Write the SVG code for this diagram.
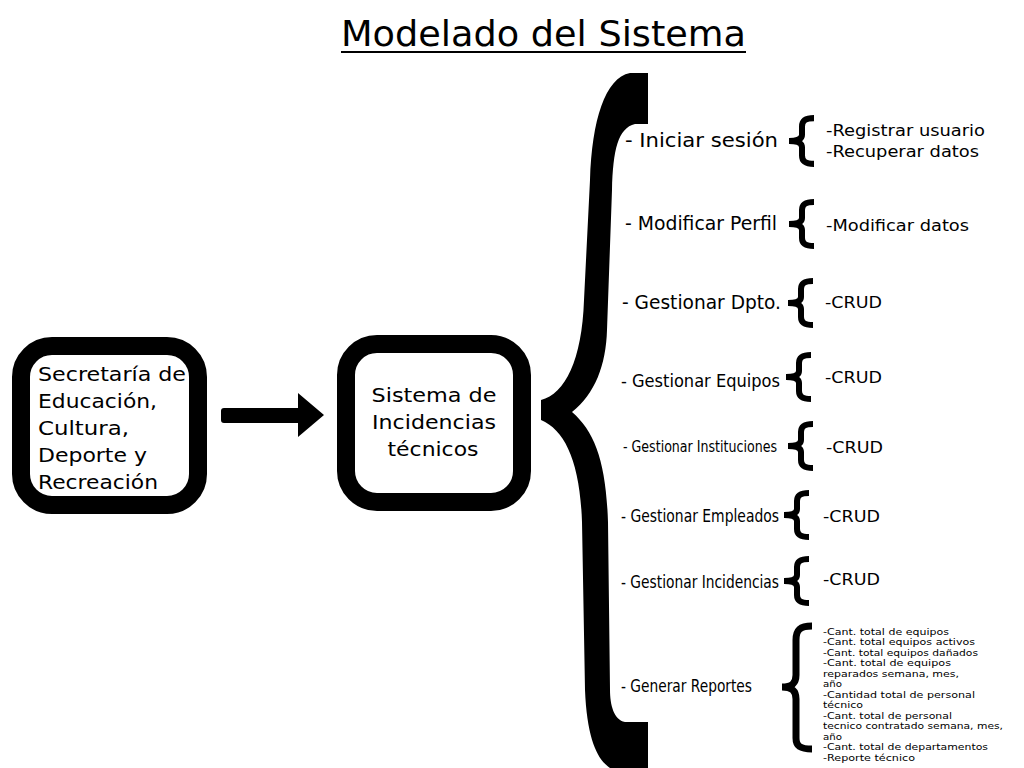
<svg xmlns="http://www.w3.org/2000/svg" xmlns:xlink="http://www.w3.org/1999/xlink" width="1024" height="768" viewBox="0 0 1024 768">
<style>
  text { font-family: "DejaVu Sans", Verdana, sans-serif; fill: #000; }
  .cond { font-family: "DejaVu Sans Condensed", "DejaVu Sans", sans-serif; }
  .box { fill: #fff; stroke: #000; stroke-width: 18; }
  .brace { fill: none; stroke: #000; stroke-width: 6; stroke-linecap: butt; stroke-linejoin: miter; }
  .big { font-size: 20px; }
  .lbl { font-size: 19px; }
  .sub { font-size: 16px; }
  .rep { font-size: 9.4px; }
</style>
<defs>
  <path id="brace" class="brace" d="M 28 3 C 20 3 16 5 16 11 L 16 19 C 16 23 12 25 3 25 C 12 25 16 27 16 31 L 16 39 C 16 45 20 47 28 47"/>
</defs>
<rect width="1024" height="768" fill="#fff"/>

<g id="title">
  <text x="341" y="46" font-size="36" textLength="405" lengthAdjust="spacingAndGlyphs">Modelado del Sistema</text>
  <line x1="341" y1="52" x2="746" y2="52" stroke="#000" stroke-width="2"/>
</g>

<g id="node-secretaria">
  <rect class="box" x="21" y="346" width="177" height="159" rx="31"/>
  <text class="big" x="38" y="381" textLength="148" lengthAdjust="spacingAndGlyphs">Secretaría de</text>
  <text class="big" x="38" y="408" textLength="119" lengthAdjust="spacingAndGlyphs">Educación,</text>
  <text class="big" x="38" y="435" textLength="91" lengthAdjust="spacingAndGlyphs">Cultura,</text>
  <text class="big" x="38" y="462" textLength="109" lengthAdjust="spacingAndGlyphs">Deporte y</text>
  <text class="big" x="38" y="489" textLength="120" lengthAdjust="spacingAndGlyphs">Recreación</text>
</g>

<g id="node-sistema">
  <rect class="box" x="346" y="344" width="176" height="158" rx="31"/>
  <text class="big" x="434" y="402" text-anchor="middle" textLength="125" lengthAdjust="spacingAndGlyphs">Sistema de</text>
  <text class="big" x="434" y="429" text-anchor="middle" textLength="124" lengthAdjust="spacingAndGlyphs">Incidencias</text>
  <text class="big" x="433" y="456" text-anchor="middle" textLength="91" lengthAdjust="spacingAndGlyphs">técnicos</text>
</g>

<g id="connectors">
  <path id="arrow" d="M 224 408 L 298 408 L 298 393 L 324 415 L 298 437 L 298 423 L 224 423 Q 221 423 221 420 L 221 411 Q 221 408 224 408 Z" fill="#000"/>
  <path id="main-brace" fill="#000" d="M 648 73 L 630 73 C 605 78 592 120 590 180 L 584 300 C 582 360 565 394 541 400 L 541 420 C 565 430 580 462 582 522 L 585 690 C 587 740 598 760 610 768 L 648 768 L 648 722 L 625 722 C 614 720 610 705 610 690 L 608 522 C 606 462 595 432 572 412 C 595 394 606 365 607 330 L 612 190 C 613 150 618 128 635 124 L 648 124 Z"/>
  <use href="#brace" xlink:href="#brace" transform="translate(786,115) scale(1,1.04)"/>
  <use href="#brace" xlink:href="#brace" transform="translate(786,199)"/>
  <use href="#brace" xlink:href="#brace" transform="translate(785,278)"/>
  <use href="#brace" xlink:href="#brace" transform="translate(783,352)"/>
  <use href="#brace" xlink:href="#brace" transform="translate(785,421)"/>
  <use href="#brace" xlink:href="#brace" transform="translate(781,490)"/>
  <use href="#brace" xlink:href="#brace" transform="translate(781,556)"/>
  <path class="brace" style="stroke-width:7" d="M 812 626 C 800 626 796 630 796 640 L 796 675 C 796 683 792 687 782 687 C 792 687 796 691 796 699 L 796 738 C 796 746 800 749 812 749"/>
</g>

<g id="node-iniciar">
  <text class="big" x="625" y="147" textLength="153" lengthAdjust="spacingAndGlyphs">- Iniciar sesión</text>
  <text class="sub" x="826" y="136" textLength="159" lengthAdjust="spacingAndGlyphs">-Registrar usuario</text>
  <text class="sub" x="826" y="157" textLength="153" lengthAdjust="spacingAndGlyphs">-Recuperar datos</text>
</g>

<g id="node-perfil">
  <text class="lbl" x="625" y="230" textLength="152" lengthAdjust="spacingAndGlyphs">- Modificar Perfil</text>
  <text class="sub" x="826" y="231" textLength="143" lengthAdjust="spacingAndGlyphs">-Modificar datos</text>
</g>

<g id="node-dpto">
  <text class="lbl" x="622" y="309" textLength="159" lengthAdjust="spacingAndGlyphs">- Gestionar Dpto.</text>
  <text class="sub" x="825" y="308" textLength="57" lengthAdjust="spacingAndGlyphs">-CRUD</text>
</g>

<g id="node-equipos">
  <text class="cond" font-size="18" x="621" y="387" textLength="159" lengthAdjust="spacingAndGlyphs">- Gestionar Equipos</text>
  <text class="sub" x="825" y="383" textLength="57" lengthAdjust="spacingAndGlyphs">-CRUD</text>
</g>

<g id="node-instituciones">
  <text class="cond" font-size="16" x="623" y="452" textLength="154" lengthAdjust="spacingAndGlyphs">- Gestionar Instituciones</text>
  <text class="sub" x="826" y="453" textLength="57" lengthAdjust="spacingAndGlyphs">-CRUD</text>
</g>

<g id="node-empleados">
  <text class="cond" font-size="17" x="621" y="522" textLength="158" lengthAdjust="spacingAndGlyphs">- Gestionar Empleados</text>
  <text class="sub" x="823" y="522" textLength="57" lengthAdjust="spacingAndGlyphs">-CRUD</text>
</g>

<g id="node-incidencias">
  <text class="cond" font-size="17" x="621" y="588" textLength="158" lengthAdjust="spacingAndGlyphs">- Gestionar Incidencias</text>
  <text class="sub" x="823" y="585" textLength="57" lengthAdjust="spacingAndGlyphs">-CRUD</text>
</g>

<g id="node-reportes">
  <text class="cond" font-size="17" x="621" y="692" textLength="131" lengthAdjust="spacingAndGlyphs">- Generar Reportes</text>
  <text class="rep" x="823" y="634.5" textLength="126" lengthAdjust="spacingAndGlyphs">-Cant. total de equipos</text>
  <text class="rep" x="823" y="645" textLength="152" lengthAdjust="spacingAndGlyphs">-Cant. total equipos activos</text>
  <text class="rep" x="823" y="655.5" textLength="155" lengthAdjust="spacingAndGlyphs">-Cant. total equipos dañados</text>
  <text class="rep" x="823" y="666" textLength="128" lengthAdjust="spacingAndGlyphs">-Cant. total de equipos</text>
  <text class="rep" x="823" y="676.5" textLength="136" lengthAdjust="spacingAndGlyphs">reparados semana, mes,</text>
  <text class="rep" x="823" y="687" textLength="19" lengthAdjust="spacingAndGlyphs">año</text>
  <text class="rep" x="823" y="697.5" textLength="152" lengthAdjust="spacingAndGlyphs">-Cantidad total de personal</text>
  <text class="rep" x="823" y="708" textLength="40" lengthAdjust="spacingAndGlyphs">técnico</text>
  <text class="rep" x="823" y="718.5" textLength="129" lengthAdjust="spacingAndGlyphs">-Cant. total de personal</text>
  <text class="rep" x="823" y="729" textLength="180" lengthAdjust="spacingAndGlyphs">tecnico contratado semana, mes,</text>
  <text class="rep" x="823" y="739.5" textLength="19" lengthAdjust="spacingAndGlyphs">año</text>
  <text class="rep" x="823" y="750" textLength="165" lengthAdjust="spacingAndGlyphs">-Cant. total de departamentos</text>
  <text class="rep" x="823" y="760.5" textLength="92" lengthAdjust="spacingAndGlyphs">-Reporte técnico</text>
</g>
</svg>
